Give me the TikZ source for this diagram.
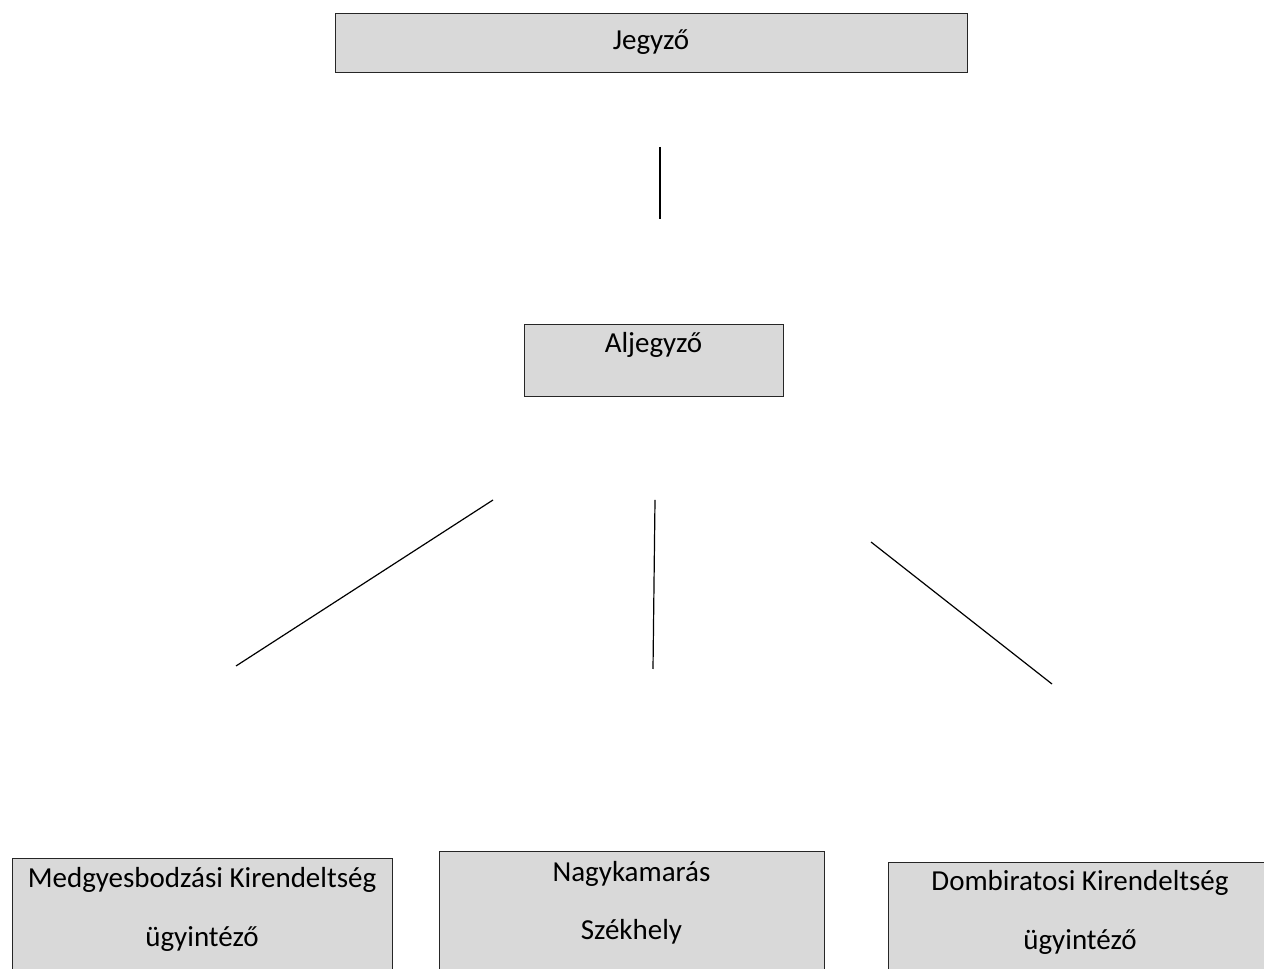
\documentclass[tikz,border=0pt]{standalone}
\usepackage{fontspec}
\setmainfont{Carlito}
\usepackage{xcolor}
\usetikzlibrary{positioning}

\begin{document}
\begin{tikzpicture}[x=1pt, y=1pt,
    office/.style={draw=black!85, line width=1pt, fill=gray!30, inner xsep=0pt, inner ysep=0pt,
      font=\fontsize{29}{35}\selectfont, align=center},
    link/.style={line width=1.2pt}]
  \useasboundingbox (0,0) rectangle (1264,969);
  \clip (0,0) rectangle (1264,969);

  \node (jegyzo) [office, anchor=base, minimum width=632pt, text height=36pt, text depth=23pt] at (651,919) {Jegyző};
  \node (aljegyzo) [office, anchor=base, minimum width=259pt, text height=28pt, text depth=44pt] at (653.5,616) {Aljegyző};

  % the lower boxes run on past the bottom edge
  \node (medgyes) [office, anchor=base, minimum width=380pt, text height=88pt, text depth=42pt] at (202,22)
    {Medgyesbodzási Kirendeltség\\[24pt]ügyintéző};
  \node (szekhely) [office, anchor=base, minimum width=385pt, text height=88pt, text depth=49pt] at (631.5,29)
    {Nagykamarás\\[23pt]Székhely};
  \node (dombi) [office, anchor=base, minimum width=384pt, text height=87pt, text depth=39pt] at (1080,19)
    {Dombiratosi Kirendeltség\\[24pt]ügyintéző};

  \coordinate (jtop) at (660,822);
  \coordinate (jbot) at (660,750);
  \coordinate (lefttop) at (493,469);
  \coordinate (leftbot) at (236,303);
  \coordinate (midtop) at (655,469);
  \coordinate (midbot) at (653,300);
  \coordinate (righttop) at (871,427);
  \coordinate (rightbot) at (1052,285);

  \draw [link] (jtop) -- (jbot);
  \draw [link] (lefttop) -- (leftbot);
  \draw [link] (midtop) -- (midbot);
  \draw [link] (righttop) -- (rightbot);
\end{tikzpicture}
\end{document}
